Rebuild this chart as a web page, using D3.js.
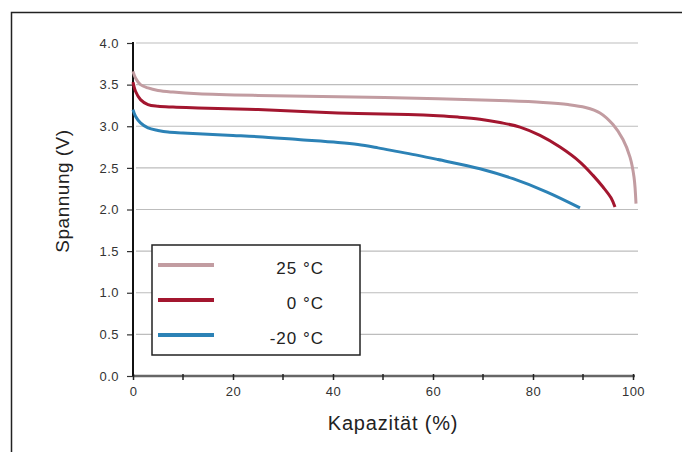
<!DOCTYPE html>
<html>
<head>
<meta charset="utf-8">
<script src="https://cdn.jsdelivr.net/npm/d3@7"></script>
<style>
    body { margin: 0; background: #fff; }
    svg { display: block; font-family: "Liberation Sans", Arial, sans-serif; }
</style>
</head>
<body>
<svg id="chart" width="682" height="452"></svg>
<script>
/**
 * Data
 */
var seriesNames = ["25 °C", "0 °C", "-20 °C"];
var seriesColors = ["#c29ca1", "#a3162f", "#2c82b6"];

var cap25 = [0, 0.5, 1.5, 3, 5, 8, 13, 25, 41, 61, 75, 82, 87, 90.5, 93.4, 96, 98, 99.4, 100.2, 100.6];
var volt25 = [3.66, 3.58, 3.50, 3.46, 3.43, 3.41, 3.39, 3.37, 3.355, 3.33, 3.305, 3.285, 3.26, 3.225, 3.16, 3.02, 2.84, 2.63, 2.39, 2.07];

var cap0 = [0, 0.5, 1.5, 3, 5, 8, 13, 25, 41, 55, 61, 65, 69.4, 73.4, 77.4, 81.4, 85.4, 89.4, 92, 94, 95.6, 96.4];
var volt0 = [3.53, 3.42, 3.32, 3.26, 3.24, 3.23, 3.22, 3.20, 3.16, 3.14, 3.125, 3.11, 3.085, 3.045, 2.99, 2.89, 2.75, 2.57, 2.41, 2.27, 2.14, 2.03];

var capM20 = [0, 0.5, 1.5, 3, 5, 7, 10, 13, 20, 25, 33, 41, 45, 49, 53, 57, 61, 69.4, 76, 82.8, 89.4];
var voltM20 = [3.20, 3.12, 3.04, 2.98, 2.95, 2.93, 2.92, 2.91, 2.89, 2.875, 2.84, 2.805, 2.78, 2.74, 2.695, 2.65, 2.60, 2.49, 2.37, 2.21, 2.02];

var xTicks = [0, 20, 40, 60, 80, 100];
var xMinorTicks = [10, 30, 50, 70, 90];
var yTicks = [0, 0.5, 1, 1.5, 2, 2.5, 3, 3.5, 4];

window.onload = function(){
    drawChart();
};

function drawChart(){
    let svg = d3.select("#chart");

    // outer frame (right and bottom edges are cut off in the picture)
    svg.append("rect")
        .attr("x", 11.5).attr("y", 12.5)
        .attr("width", 720).attr("height", 500)
        .style("fill", "none")
        .style("stroke", "#222")
        .style("stroke-width", 1.5);

    let xScale = d3.scaleLinear().domain([0, 100]).range([133, 633]);
    let yScale = d3.scaleLinear().domain([0, 4]).range([376, 43]);

    // grid lines
    svg.append("g").selectAll("line")
        .data(yTicks.filter(function(d){ return d > 0; }))
        .enter()
        .append("line")
        .attr("x1", 136).attr("x2", 638)
        .attr("y1", function(d){ return yScale(d); })
        .attr("y2", function(d){ return yScale(d); })
        .style("stroke", "#bdbdbd")
        .style("stroke-width", 1.2);

    // y axis
    let yAxis = d3.axisLeft(yScale)
        .tickValues(yTicks)
        .tickFormat(d3.format(".1f"))
        .tickSize(6)
        .tickPadding(8);
    let gy = svg.append("g").attr("transform", "translate(133,0)").call(yAxis);
    gy.select(".domain").remove();
    gy.selectAll(".tick line").style("stroke", "#333").style("stroke-width", 1.2);
    gy.selectAll(".tick text")
        .style("font-size", "13px")
        .style("letter-spacing", "0.5px")
        .style("fill", "#333");

    // x axis
    svg.append("line")
        .attr("x1", xScale(0)).attr("x2", xScale(100) + 2)
        .attr("y1", yScale(0)).attr("y2", yScale(0))
        .style("stroke", "#666")
        .style("stroke-width", 2.5);

    svg.append("g").selectAll("line")
        .data(xMinorTicks)
        .enter()
        .append("line")
        .attr("x1", function(d){ return xScale(d); })
        .attr("x2", function(d){ return xScale(d); })
        .attr("y1", yScale(0) - 2).attr("y2", yScale(0) + 4)
        .style("stroke", "#222")
        .style("stroke-width", 1.5);

    let xAxis = d3.axisBottom(xScale)
        .tickValues(xTicks)
        .tickFormat(d3.format("d"))
        .tickSize(6)
        .tickPadding(7);
    let gx = svg.append("g").attr("transform", "translate(0," + (yScale(0) - 2) + ")").call(xAxis);
    gx.select(".domain").remove();
    gx.selectAll(".tick line").style("stroke", "#222").style("stroke-width", 1.5);
    gx.selectAll(".tick text")
        .style("font-size", "13px")
        .style("letter-spacing", "0.5px")
        .style("fill", "#333");

    // y axis line
    svg.append("line")
        .attr("x1", 133).attr("x2", 133)
        .attr("y1", yScale(0)).attr("y2", yScale(4) - 1)
        .style("stroke", "#111")
        .style("stroke-width", 2);

    // curves
    let series = [
        {name: seriesNames[0], color: seriesColors[0], cap: cap25, volt: volt25},
        {name: seriesNames[1], color: seriesColors[1], cap: cap0, volt: volt0},
        {name: seriesNames[2], color: seriesColors[2], cap: capM20, volt: voltM20}
    ];

    let line = d3.line()
        .x(function(d){ return xScale(d[0]); })
        .y(function(d){ return yScale(d[1]); })
        .curve(d3.curveCatmullRom.alpha(0.5));

    svg.append("g").selectAll("path")
        .data(series)
        .enter()
        .append("path")
        .attr("d", function(s){
            return line(s.cap.map(function(c, i){ return [c, s.volt[i]]; }));
        })
        .style("fill", "none")
        .style("stroke", function(s){ return s.color; })
        .style("stroke-width", 3)
        .style("stroke-linejoin", "round");

    // legend
    let legend = svg.append("g");
    legend.append("rect")
        .attr("x", 152).attr("y", 245)
        .attr("width", 208).attr("height", 110)
        .style("fill", "#fff")
        .style("stroke", "#222")
        .style("stroke-width", 1.5);

    let rows = legend.selectAll("g.row")
        .data(series)
        .enter()
        .append("g")
        .attr("class", "row")
        .attr("transform", function(d, i){ return "translate(0," + (265 + i * 35) + ")"; });

    rows.append("line")
        .attr("x1", 158).attr("x2", 214)
        .attr("y1", 0).attr("y2", 0)
        .style("stroke", function(d){ return d.color; })
        .style("stroke-width", 4);

    rows.append("text")
        .attr("x", 324).attr("y", 9)
        .attr("text-anchor", "end")
        .style("font-size", "17px")
        .style("letter-spacing", "1px")
        .style("fill", "#222")
        .text(function(d){ return d.name; });

    // axis titles
    svg.append("text")
        .attr("x", 393).attr("y", 430)
        .attr("text-anchor", "middle")
        .style("font-size", "20px")
        .style("letter-spacing", "0.8px")
        .style("fill", "#222")
        .text("Kapazität (%)");

    svg.append("text")
        .attr("transform", "translate(69,191) rotate(-90)")
        .attr("text-anchor", "middle")
        .style("font-size", "19px")
        .style("letter-spacing", "0.5px")
        .style("fill", "#222")
        .text("Spannung (V)");
}
</script>
</body>
</html>
